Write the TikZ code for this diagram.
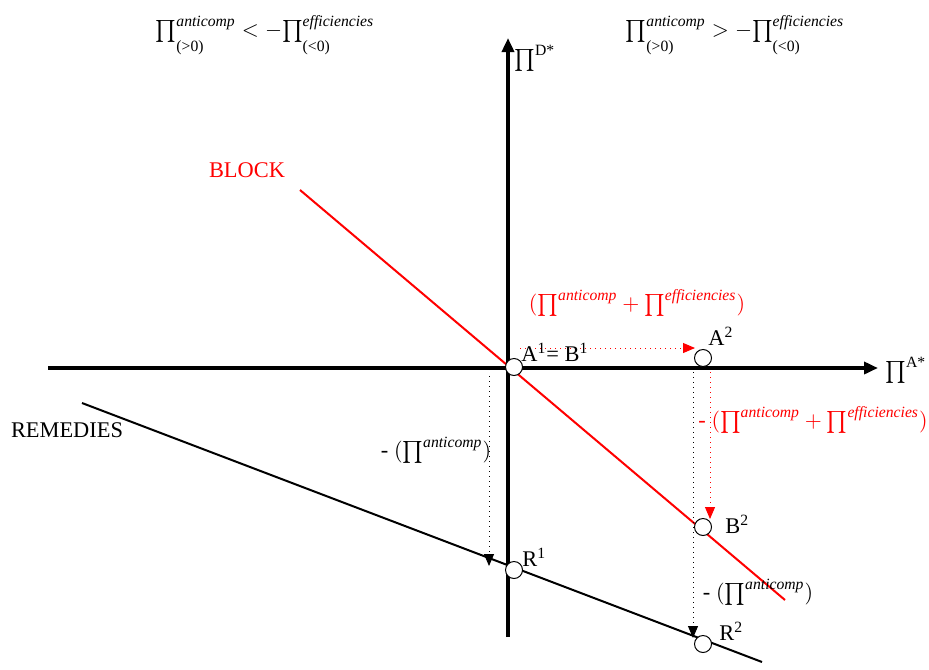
\documentclass[tikz,border=0pt]{standalone}
\usepackage{amsmath}
\usepackage{fontspec}
\setmainfont{Liberation Serif}
\usetikzlibrary{arrows.meta}
\newcommand{\PP}{{\textstyle\prod\nolimits}}
\newcommand{\sAC}{\textit{anticomp}}
\newcommand{\sEF}{\textit{efficiencies}}
\newcommand{\sbz}[1]{\text{\raisebox{-1.2ex}{#1}}}
\begin{document}
\begin{tikzpicture}[x=0.5pt,y=-0.5pt,
  every node/.style={font=\fontsize{11.2}{13}\selectfont, inner sep=0pt},
  axis/.style={line width=2pt,-{Triangle[length=7pt,width=6pt]}},
  blockline/.style={red, line width=1pt},
  remline/.style={black, line width=1pt},
  pt/.style={circle, draw, fill=white, minimum size=8.5pt, inner sep=0pt, line width=0.5pt},
  dotarrow/.style={dotted, line width=0.5pt, -{Triangle[length=6pt,width=5pt]}},
  redlbl/.style={text=red}]
\useasboundingbox (0,0) rectangle (929,669);
% axes
\coordinate (xL) at (48,368);
\coordinate (xR) at (878,368);
\coordinate (yB) at (508,637);
\coordinate (yT) at (508,38);
\draw[axis] (xL) -- (xR);
\draw[axis] (yB) -- (yT);
% lines
\coordinate (bS) at (300,190);
\coordinate (bE) at (785,600);
\draw[blockline] (bS) -- (bE);
\coordinate (rS) at (82,403);
\coordinate (rE) at (762,662);
\draw[remline] (rS) -- (rE);
% dotted arrows
\coordinate (h1) at (520,348);
\coordinate (h2) at (695,348);
\draw[dotarrow, red] (h1) -- (h2);
\coordinate (v1) at (710,372);
\coordinate (v2) at (710,519);
\draw[dotarrow, red] (v1) -- (v2);
\coordinate (k1) at (489,376);
\coordinate (k2) at (489,566);
\draw[dotarrow] (k1) -- (k2);
\coordinate (m1) at (693,372);
\coordinate (m2) at (693,638);
\draw[dotarrow] (m1) -- (m2);
% points
\node[pt] (A1) at (514,367) {};
\node[pt] (A2) at (703,358) {};
\node[pt] (B2) at (703,527) {};
\node[pt] (R1) at (514,570) {};
\node[pt] (R2) at (703,644) {};
% point labels
\node[anchor=base west] (lA1) at (521,361) {A\textsuperscript{1}= B\textsuperscript{1}};
\node[anchor=base west] (lA2) at (708,345) {A\textsuperscript{2}};
\node[anchor=base west] (lB2) at (725,533) {B\textsuperscript{2}};
\node[anchor=base west] (lR1) at (522,566) {R\textsuperscript{1}};
\node[anchor=base west] (lR2) at (719,640) {R\textsuperscript{2}};
% axis labels
\node[anchor=base west] (lD) at (514,66) {$\PP^{\text{D*}}$};
\node[anchor=base west] (lAx) at (885,378) {$\PP^{\text{A*}}$};
% line labels
\node[redlbl] (lBlock) at (247,170) {BLOCK};
\node (lRem) at (67,430) {REMEDIES};
% top conditions
\node[anchor=north] (cL) at (265,15) {$\PP^{\sAC}_{\sbz{(>0)}} < -\PP^{\sEF}_{\sbz{(<0)}}$};
\node[anchor=north] (cR) at (735,15) {$\PP^{\sAC}_{\sbz{(>0)}} > -\PP^{\sEF}_{\sbz{(<0)}}$};
% effect labels
\node[redlbl] (e1) at (637,303) {$(\PP^{\sAC} + \PP^{\sEF})$};
\node[redlbl] (e2) at (813,420) {- $(\PP^{\sAC} + \PP^{\sEF})$};
\node (e3) at (436,450) {- $(\PP^{\sAC})$};
\node (e4) at (758,592) {- $(\PP^{\sAC})$};
\end{tikzpicture}
\end{document}
